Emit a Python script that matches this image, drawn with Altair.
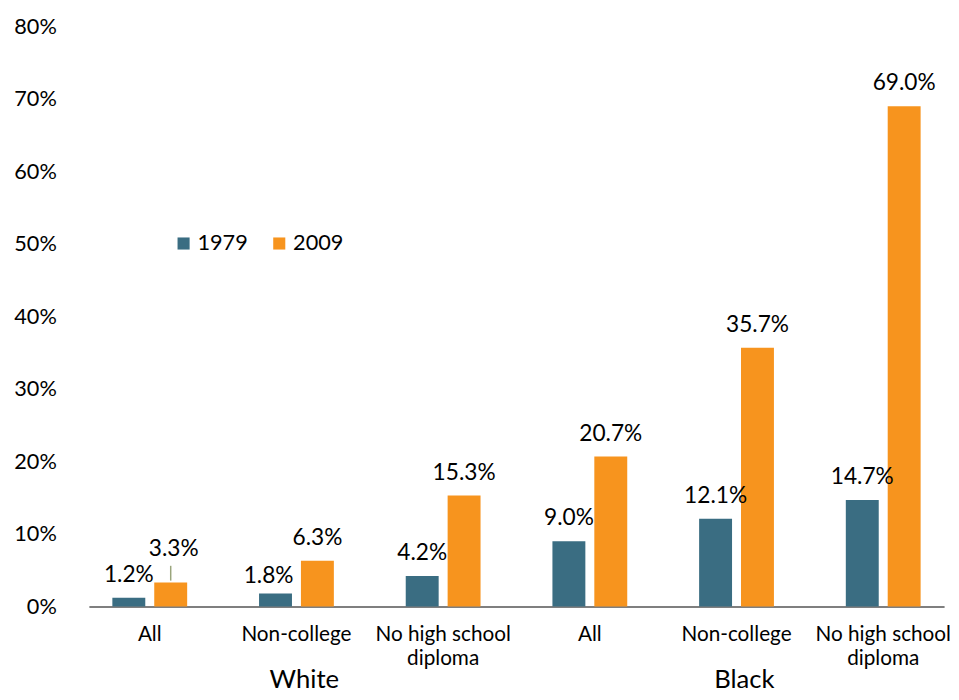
import altair as alt
import pandas as pd

race = ["White", "White", "White", "Black", "Black", "Black"]
edu = ["All", "Non-college", "No high school|diploma", "All", "Non-college", "No high school|diploma"]
v1979 = [1.2, 1.8, 4.2, 9.0, 12.1, 14.7]
v2009 = [3.3, 6.3, 15.3, 20.7, 35.7, 69.0]
years = ["1979", "2009"]
groups = ["White", "Black"]
group_mid = [1, 4]
y_ticks = [0, 10, 20, 30, 40, 50, 60, 70, 80]

order = [f"{r}#{e}" for r, e in zip(race, edu)]
rows = []
for k, a, b in zip(order, v1979, v2009):
    rows.append({"cat": k, "year": years[0], "value": a / 100})
    rows.append({"cat": k, "year": years[1], "value": b / 100})
df = pd.DataFrame(rows)
gdf = pd.DataFrame({"group": groups, "cat": [order[i] for i in group_mid]})

W, H = 867, 588
FONT = "Lato"

xscale = alt.Scale(paddingInner=0.49, paddingOuter=0.16)
x_main = alt.X(
    "cat:N", sort=order, scale=xscale,
    axis=alt.Axis(
        title=None, labelAngle=0, ticks=False, domainColor="#000", domainWidth=1.2,
        labelExpr="split(split(datum.label, '#')[1], '|')",
        labelFont=FONT, labelFontSize=21, labelColor="#000",
        labelPadding=17, labelLineHeight=25,
    ),
)
x_plain = alt.X("cat:N", sort=order, scale=xscale)
xoff = alt.XOffset("year:N", sort=years, scale=alt.Scale(paddingInner=0.214))
y_enc = alt.Y(
    "value:Q",
    scale=alt.Scale(domain=[0, 0.8]),
    axis=alt.Axis(
        title=None, values=[t / 100 for t in y_ticks], format=".0%", grid=False,
        domain=False, ticks=False, labelFont=FONT, labelFontSize=22,
        labelColor="#000", labelPadding=33,
    ),
)

base = alt.Chart(df)
bars = base.mark_bar().encode(
    x=x_main,
    xOffset=xoff,
    y=y_enc,
    color=alt.Color(
        "year:N",
        scale=alt.Scale(domain=years, range=["#3a6d82", "#f7941e"]),
        legend=alt.Legend(
            title=None, orient="none", legendX=85, legendY=209,
            direction="horizontal", symbolType="square", symbolSize=150,
            symbolStrokeWidth=0, labelFont=FONT, labelFontSize=22,
            labelColor="#000", columnPadding=20, labelOffset=3,
        ),
    ),
)

first_cat = order[0]
second_cat = order[1]
is_33 = f"datum.cat == '{first_cat}' && datum.year == '{years[1]}'"
is_18 = f"datum.cat == '{second_cat}' && datum.year == '{years[0]}'"

txt_enc = dict(
    x=x_plain,
    xOffset=xoff,
    y=alt.Y("value:Q"),
    text=alt.Text("value:Q", format=".1%"),
)
labels = base.transform_filter(f"!({is_33}) && !({is_18})").mark_text(
    baseline="bottom", dy=-11, font=FONT, fontSize=23, color="#000"
).encode(**txt_enc)
label33 = base.transform_filter(is_33).mark_text(
    baseline="bottom", dy=-22, dx=3, font=FONT, fontSize=23, color="#000"
).encode(**txt_enc)
label18 = base.transform_filter(is_18).mark_text(
    baseline="bottom", dy=-6, dx=-7, font=FONT, fontSize=23, color="#000"
).encode(**txt_enc)
leader = base.transform_filter(is_33).mark_rule(
    color="#9aa57c", strokeWidth=1.5, yOffset=-2, y2Offset=-17, xOffset=1, x2Offset=-1
).encode(
    x=x_plain,
    xOffset=xoff,
    y=alt.Y("value:Q"),
    y2="value:Q",
)

glabels = alt.Chart(gdf).mark_text(font=FONT, fontSize=26, color="#000", dx=8, baseline="middle").encode(
    x=x_plain,
    y=alt.value(H + 75),
    text="group:N",
)

chart = (
    alt.layer(bars, labels, label33, label18, leader, glabels)
    .properties(width=W, height=H, padding={"left": 5, "top": 3, "right": 0, "bottom": 0})
    .configure_view(stroke=None)
)
chart.save("out.html", embed_options={"renderer": "svg", "actions": False})
